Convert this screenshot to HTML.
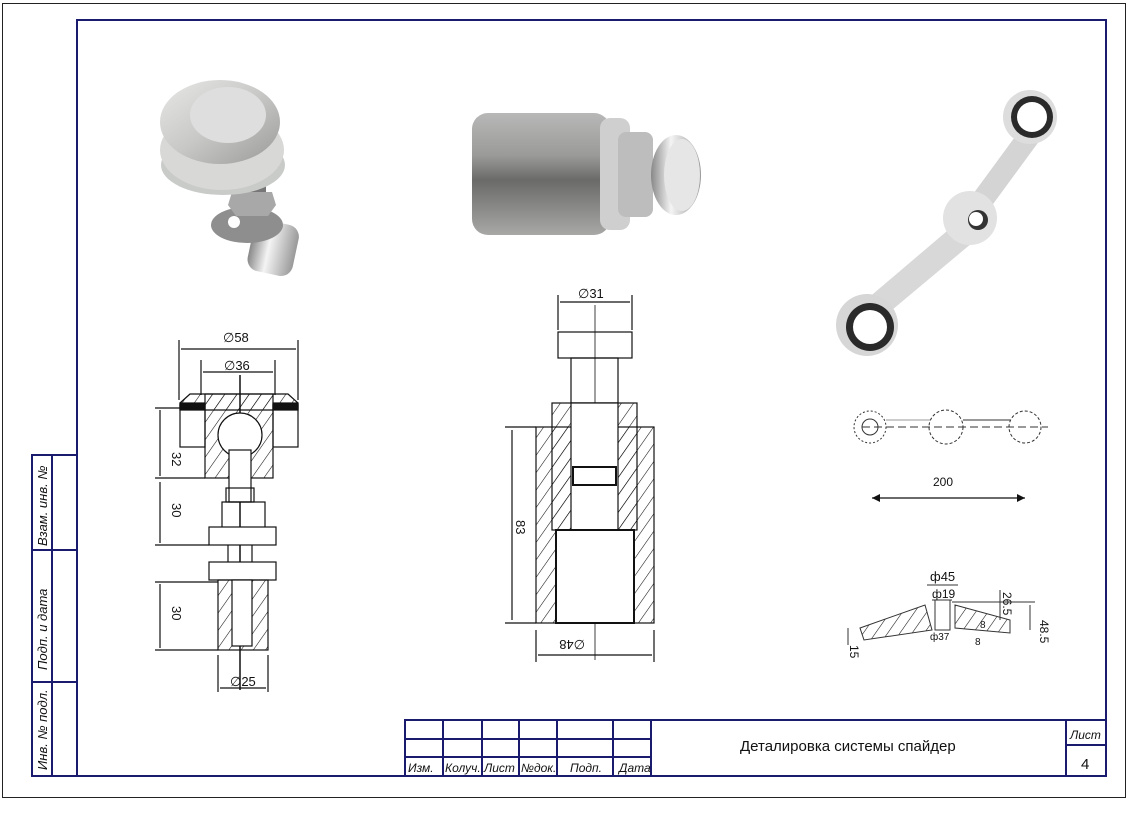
<!DOCTYPE html>
<html><head><meta charset="utf-8"><style>
html,body{margin:0;padding:0;background:#fff}
svg{display:block}
text{font-family:"Liberation Sans",sans-serif}
.it{font-family:"Liberation Sans Narrow","Liberation Sans",sans-serif;font-style:italic}
</style></head><body>
<svg width="1138" height="814" viewBox="0 0 1138 814" xmlns="http://www.w3.org/2000/svg">
<defs>
<linearGradient id="cyl" x1="0" y1="0" x2="0" y2="1">
<stop offset="0" stop-color="#b8b8b8"/><stop offset="0.35" stop-color="#9a9a98"/><stop offset="0.55" stop-color="#6a6a68"/><stop offset="1" stop-color="#a8a8a6"/></linearGradient>
<linearGradient id="cap" x1="0" y1="0" x2="1" y2="1">
<stop offset="0" stop-color="#e8e8e6"/><stop offset="0.5" stop-color="#c8c8c6"/><stop offset="1" stop-color="#9a9a98"/></linearGradient>
<linearGradient id="chr" x1="0" y1="0" x2="1" y2="0">
<stop offset="0" stop-color="#888"/><stop offset="0.4" stop-color="#f4f4f4"/><stop offset="1" stop-color="#999"/></linearGradient>
<pattern id="h" width="10" height="10" patternUnits="userSpaceOnUse" patternTransform="rotate(35)">
<line x1="0" y1="0" x2="0" y2="10" stroke="#111" stroke-width="1.1"/></pattern>
</defs>
<rect x="2.5" y="3.5" width="1123" height="794" fill="none" stroke="#222" stroke-width="1"/>
<g stroke="#1a1a6e" stroke-width="2" fill="none">
<rect x="77" y="20" width="1029" height="756"/>
<rect x="32" y="455" width="45" height="321"/>
<line x1="52" y1="455" x2="52" y2="776"/>
<line x1="32" y1="550" x2="77" y2="550"/>
<line x1="32" y1="682" x2="77" y2="682"/>
<rect x="405" y="720" width="701" height="56"/>
<line x1="651" y1="720" x2="651" y2="776"/>
<line x1="1066" y1="720" x2="1066" y2="776"/>
<line x1="1066" y1="745" x2="1106" y2="745"/>
<line x1="405" y1="739" x2="651" y2="739"/>
<line x1="405" y1="757" x2="651" y2="757"/>
<line x1="443" y1="720" x2="443" y2="776"/><line x1="482" y1="720" x2="482" y2="776"/>
<line x1="519" y1="720" x2="519" y2="776"/><line x1="557" y1="720" x2="557" y2="776"/>
<line x1="613" y1="720" x2="613" y2="776"/>
</g>
<g class="it" font-size="12" fill="#111">
<text x="408" y="772">Изм.</text><text x="445" y="772">Колуч.</text><text x="484" y="772">Лист</text>
<text x="521" y="772">№док.</text><text x="570" y="772">Подп.</text><text x="619" y="772">Дата</text>
<text x="1070" y="739">Лист</text>
<text transform="translate(47,546) rotate(-90)" font-size="13">Взам. инв. №</text>
<text transform="translate(47,670) rotate(-90)" font-size="13">Подп. и дата</text>
<text transform="translate(47,770) rotate(-90)" font-size="13">Инв. № подл.</text>
</g>
<text x="740" y="751" font-size="15" fill="#111">Деталировка системы спайдер</text>
<text x="1081" y="769" font-size="15" fill="#111">4</text>

<!-- photo 1 -->
<g>
<rect x="250" y="222" width="46" height="52" rx="12" fill="url(#chr)" transform="rotate(12 273 249)"/>
<ellipse cx="247" cy="225" rx="36" ry="18" fill="#8e8e8e"/>
<circle cx="234" cy="222" r="6" fill="#fff"/>
<rect x="236" y="172" width="30" height="22" fill="#777"/>
<polygon points="232,192 272,192 276,205 268,216 236,216 228,205" fill="#a8a8a8"/>
<ellipse cx="223" cy="165" rx="62" ry="30" fill="#c9cbc9"/>
<ellipse cx="222" cy="150" rx="62" ry="40" fill="#d8d8d6"/>
<ellipse cx="220" cy="122" rx="60" ry="42" fill="url(#cap)"/>
<ellipse cx="228" cy="115" rx="38" ry="28" fill="#dedede"/>
</g>
<!-- photo 2 -->
<g>
<rect x="472" y="113" width="138" height="122" rx="16" fill="url(#cyl)"/>
<rect x="600" y="118" width="30" height="112" rx="10" fill="#cfcfcf"/>
<rect x="618" y="132" width="35" height="85" rx="8" fill="#bdbdbd"/>
<ellipse cx="676" cy="175" rx="25" ry="40" fill="url(#chr)"/>
<ellipse cx="682" cy="175" rx="18" ry="36" fill="#e6e6e6"/>
</g>
<!-- photo 3 -->
<g>
<path d="M1020 130 L1040 140 L985 215 L965 205 Z" fill="#d4d4d4"/>
<path d="M960 220 L978 238 L880 320 L860 305 Z" fill="#d8d8d8"/>
<circle cx="1030" cy="117" r="27" fill="#ddd"/><circle cx="1032" cy="117" r="21" fill="#2a2a2a"/><circle cx="1032" cy="117" r="15" fill="#fff"/>
<circle cx="970" cy="218" r="27" fill="#e2e2e2"/><circle cx="978" cy="220" r="10" fill="#333"/><circle cx="976" cy="219" r="7" fill="#fff"/>
<circle cx="867" cy="325" r="31" fill="#d6d6d6"/><circle cx="870" cy="327" r="24" fill="#2a2a2a"/><circle cx="870" cy="327" r="17" fill="#fff"/>
</g>

<!-- drawing 1 -->
<g stroke="#111" stroke-width="1.2" fill="none">
<line x1="179" y1="340" x2="179" y2="400"/><line x1="298" y1="340" x2="298" y2="400"/>
<line x1="181" y1="349" x2="296" y2="349"/>
<line x1="201" y1="360" x2="201" y2="395"/><line x1="275" y1="360" x2="275" y2="395"/>
<line x1="203" y1="372" x2="273" y2="372"/>
<line x1="240" y1="375" x2="240" y2="690" stroke-width="1.5"/>
<rect x="205" y="394" width="68" height="84" fill="url(#h)"/>
<path d="M180 403 L190 394 L288 394 L298 403 L298 410 L180 410 Z" fill="url(#h)"/>
<rect x="180" y="405" width="25" height="42"/><rect x="273" y="405" width="25" height="42"/>
<rect x="180" y="403" width="25" height="6" fill="#111"/><rect x="273" y="403" width="25" height="6" fill="#111"/>
<circle cx="240" cy="435" r="22" fill="#fff"/>
<rect x="229" y="450" width="22" height="52" fill="#fff"/>
<rect x="226" y="488" width="28" height="14"/>
<rect x="222" y="502" width="43" height="26"/>
<rect x="209" y="527" width="67" height="18" fill="#fff"/>
<line x1="228" y1="545" x2="228" y2="562"/><line x1="252" y1="545" x2="252" y2="562"/>
<rect x="209" y="562" width="67" height="18" fill="#fff"/>
<rect x="218" y="580" width="50" height="70" fill="url(#h)"/>
<rect x="232" y="580" width="20" height="66" fill="#fff"/>
<line x1="155" y1="408" x2="205" y2="408"/><line x1="155" y1="478" x2="205" y2="478"/>
<line x1="155" y1="545" x2="209" y2="545"/><line x1="155" y1="582" x2="218" y2="582"/>
<line x1="155" y1="650" x2="218" y2="650"/>
<line x1="160" y1="410" x2="160" y2="476"/><line x1="160" y1="482" x2="160" y2="543"/>
<line x1="160" y1="584" x2="160" y2="648"/>
<line x1="218" y1="655" x2="218" y2="692"/><line x1="268" y1="655" x2="268" y2="692"/>
<line x1="220" y1="688" x2="266" y2="688"/>
</g>
<g font-size="13" fill="#111">
<text x="223" y="342">∅58</text><text x="224" y="370">∅36</text><text x="230" y="686">∅25</text>
<text transform="translate(172,452) rotate(90)">32</text>
<text transform="translate(172,503) rotate(90)">30</text>
<text transform="translate(172,606) rotate(90)">30</text>
</g>

<!-- drawing 2 -->
<g stroke="#111" stroke-width="1.2" fill="none">
<line x1="558" y1="295" x2="558" y2="330"/><line x1="632" y1="295" x2="632" y2="330"/>
<line x1="560" y1="302" x2="630" y2="302"/>
<line x1="595" y1="305" x2="595" y2="660" stroke-width="0.8"/>
<rect x="558" y="332" width="74" height="26"/>
<rect x="571" y="358" width="47" height="45"/>
<rect x="536" y="427" width="118" height="196" fill="url(#h)"/>
<rect x="552" y="403" width="85" height="127" fill="url(#h)"/>
<rect x="571" y="403" width="47" height="127" fill="#fff"/>
<rect x="556" y="530" width="78" height="93" fill="#fff" stroke-width="2"/>
<rect x="573" y="467" width="43" height="18" stroke-width="2"/>
<line x1="505" y1="427" x2="536" y2="427"/><line x1="505" y1="623" x2="536" y2="623"/>
<line x1="512" y1="430" x2="512" y2="620"/>
<line x1="536" y1="630" x2="536" y2="662"/><line x1="654" y1="630" x2="654" y2="662"/>
<line x1="538" y1="655" x2="652" y2="655"/>
</g>
<g font-size="13" fill="#111">
<text x="578" y="298">∅31</text>
<text transform="translate(585,640) rotate(180)">∅48</text>
<text transform="translate(516,520) rotate(90)">83</text>
</g>

<!-- drawing 3 -->
<g stroke="#333" stroke-width="1" fill="none">
<circle cx="870" cy="427" r="16" stroke-dasharray="2 2"/><circle cx="870" cy="427" r="8"/>
<circle cx="946" cy="427" r="17" stroke-dasharray="3 2"/>
<circle cx="1025" cy="427" r="16" stroke-dasharray="3 2"/>
<line x1="886" y1="420" x2="930" y2="420" stroke="#999"/><line x1="963" y1="420" x2="1010" y2="420"/>
<line x1="862" y1="427" x2="1048" y2="427" stroke-dasharray="8 4"/>
<line x1="872" y1="498" x2="1025" y2="498" stroke="#111" stroke-width="1.3"/>
<path d="M860 628 L925 605 L932 630 L864 640 Z" fill="url(#h)"/>
<path d="M955 605 L1010 620 L1010 633 L955 628 Z" fill="url(#h)"/>
<rect x="935" y="600" width="15" height="30"/>
<line x1="927" y1="585" x2="958" y2="585"/><line x1="932" y1="600" x2="952" y2="600"/>
<line x1="952" y1="602" x2="1035" y2="602"/><line x1="1030" y1="605" x2="1030" y2="630"/>
<line x1="1000" y1="590" x2="1000" y2="620"/>
<line x1="848" y1="628" x2="848" y2="645"/>
</g>
<polygon points="872,498 880,494 880,502" fill="#111"/><polygon points="1025,498 1017,494 1017,502" fill="#111"/>
<g font-size="12" fill="#111">
<text x="933" y="486">200</text>
<text x="930" y="581" font-size="13">ф45</text><text x="932" y="598">ф19</text>
<text transform="translate(1003,592) rotate(90)">26.5</text>
<text transform="translate(1040,620) rotate(90)">48.5</text>
<text transform="translate(850,645) rotate(90)">15</text>
<text x="930" y="640" font-size="10">ф37</text>
<text x="980" y="628" font-size="10">8</text><text x="975" y="645" font-size="10">8</text>
</g>
</svg>
</body></html>
